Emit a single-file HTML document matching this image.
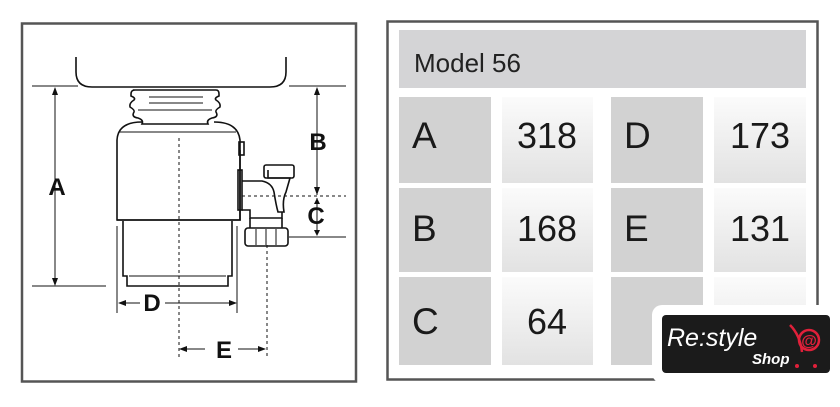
<!DOCTYPE html>
<html><head><style>
body{margin:0;background:#fff;width:840px;height:402px;overflow:hidden;font-family:"Liberation Sans",sans-serif}
</style></head><body>
<svg width="840" height="402" viewBox="0 0 840 402" xmlns="http://www.w3.org/2000/svg">
<defs>
<linearGradient id="lg" x1="0" y1="0" x2="0" y2="1"><stop offset="0" stop-color="#fbfbfb"/><stop offset="1" stop-color="#e2e2e2"/></linearGradient>
</defs>
<rect x="22" y="23.5" width="334" height="358" fill="#fff" stroke="#555" stroke-width="2.5"/>
<g fill="none" stroke="#111" stroke-width="1.6">
<path d="M76 57 V72 Q76 87 92 87 H270 Q286 87 286 72 V57"/>
<line x1="32" y1="86" x2="78" y2="86" stroke-width="1"/>
<line x1="289" y1="86" x2="346" y2="86" stroke-width="1"/>
<path d="M133 90 H216 Q219 90 219 94 V96 Q214 98 216 100 Q221 103 220 107 Q215 110 216 112 Q219 117 212 118 Q206 120 208 124 H142 Q144 120 138 118 Q131 117 134 112 Q135 110 130 107 Q129 103 134 100 Q136 98 131 96 V94 Q131 90 135 90 Z"/>
<line x1="149" y1="97" x2="203" y2="97" stroke-width="1"/>
<line x1="149" y1="103" x2="203" y2="103" stroke-width="1"/>
<line x1="138" y1="110" x2="212" y2="110" stroke-width="1"/>
<path d="M142 122 Q118 122 117 140 V220 H240 V140 Q238 122 214 122"/>
<line x1="119" y1="132" x2="236" y2="132" stroke-width="1"/>
<path d="M117 220 H240 V150"/>
<path d="M123 221 V276 H127 V286 H228 V276 H232 V221"/>
<line x1="129" y1="276" x2="226" y2="276" stroke-width="1"/>
<rect x="239" y="142" width="5" height="13"/>
<rect x="238" y="170" width="4" height="40"/>
<path d="M242 181 H262 Q272 183 274 192 Q276 205 278 212 H284 Q282 200 286 192 L290 178 H268 V170"/>
<rect x="264" y="165" width="30" height="13" rx="2"/>
<path d="M242 210 H250 V218 H282 V212"/>
<rect x="245" y="228" width="43" height="18" rx="3"/>
<path d="M250 218 V228 M282 218 V228"/>
<line x1="256" y1="229" x2="256" y2="245" stroke-width="1"/>
<line x1="266" y1="229" x2="266" y2="245" stroke-width="1"/>
<line x1="276" y1="229" x2="276" y2="245" stroke-width="1"/>
</g>
<g stroke="#111" stroke-width="1" fill="none">
<line x1="32" y1="286" x2="106" y2="286"/>
<line x1="289" y1="237" x2="346" y2="237"/>
<line x1="117" y1="226" x2="117" y2="313"/>
<line x1="237" y1="226" x2="237" y2="313"/>
<line x1="55" y1="88" x2="55" y2="284"/>
<line x1="317" y1="88" x2="317" y2="195"/>
<line x1="317" y1="198" x2="317" y2="235"/>
<line x1="119" y1="303" x2="140" y2="303"/><line x1="165" y1="303" x2="236" y2="303"/>
<line x1="180" y1="349" x2="205" y2="349"/><line x1="238" y1="349" x2="265" y2="349"/>
<g stroke-dasharray="3,3">
<line x1="179" y1="138" x2="179" y2="358"/>
<line x1="267" y1="245" x2="267" y2="358"/>
<line x1="242" y1="196" x2="346" y2="196"/>
</g>
</g>
<g fill="#111">
<path d="M55 87 l-3 8 h6z M55 286 l-3 -8 h6z"/>
<path d="M317 87 l-3 8 h6z M317 195 l-3 -8 h6z M317 198 l-3 6 h6z M317 236 l-3 -6 h6z"/>
<path d="M118 303 l8 -3 v6z M237 303 l-8 -3 v6z M179 349 l8 -3 v6z M266 349 l-8 -3 v6z"/>
</g>
<g font-weight="bold" font-size="24" fill="#111" text-anchor="middle">
<text x="57" y="195">A</text>
<text x="318" y="150">B</text>
<text x="316" y="224">C</text>
<text x="152" y="311">D</text>
<text x="224" y="358">E</text>
</g>
<rect x="387.5" y="21.5" width="430" height="358" fill="#fff" stroke="#555" stroke-width="2.5"/>
<rect x="399" y="30" width="407" height="58" fill="#d4d4d6"/>
<text x="414" y="72" font-size="26" fill="#222">Model 56</text>
<g fill="#d2d2d2">
<rect x="399" y="97" width="92" height="86"/><rect x="399" y="188" width="92" height="84"/><rect x="399" y="277" width="92" height="88"/>
<rect x="611" y="97" width="92" height="86"/><rect x="611" y="188" width="92" height="84"/><rect x="611" y="277" width="92" height="88"/>
</g>
<g fill="url(#lg)">
<rect x="502" y="97" width="91" height="86"/><rect x="502" y="188" width="91" height="84"/><rect x="502" y="277" width="91" height="88"/>
<rect x="714" y="97" width="92" height="86"/><rect x="714" y="188" width="92" height="84"/><rect x="714" y="277" width="92" height="88"/>
</g>
<g font-size="37" fill="#1a1a1a">
<text x="412" y="148">A</text><text x="412" y="241">B</text><text x="412" y="334">C</text>
<text x="624" y="148">D</text><text x="624" y="241">E</text>
</g>
<g font-size="36" fill="#1a1a1a" text-anchor="middle">
<text x="547" y="148">318</text><text x="547" y="241">168</text><text x="547" y="334">64</text>
<text x="760" y="148">173</text><text x="760" y="241">131</text>
</g>
<rect x="652" y="305" width="190" height="78" rx="10" fill="#fff"/>
<rect x="662" y="315" width="168" height="58" rx="4" fill="#1b1b1b"/>
<text x="667" y="346" font-size="25" font-style="italic" fill="#fff">Re:style</text>
<text x="752" y="364" font-size="15" font-weight="bold" font-style="italic" fill="#fff">Shop</text>
<path d="M790 325 Q800 335 802 352" fill="none" stroke="#e0203a" stroke-width="2.5"/>
<circle cx="809" cy="340" r="10" fill="none" stroke="#e0203a" stroke-width="2.5"/>
<text x="809" y="346" font-size="16" fill="#e0203a" text-anchor="middle" font-weight="bold">@</text>
<circle cx="797" cy="366" r="2" fill="#e0203a"/><circle cx="815" cy="366" r="2" fill="#e0203a"/>
</svg>
</body></html>
